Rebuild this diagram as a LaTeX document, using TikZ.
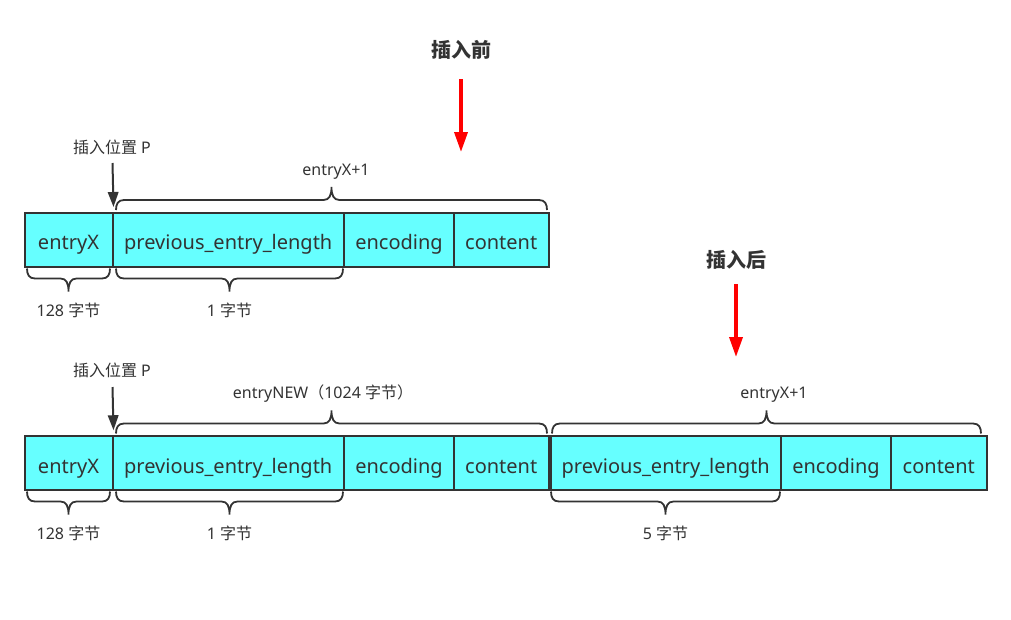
\documentclass[tikz,border=0pt]{standalone}
\usepackage{fontspec}
\setmainfont{Noto Sans}
\newfontfamily\cjk{Noto Sans CJK SC}
\usetikzlibrary{arrows.meta,calc}
\definecolor{ink}{HTML}{333333}
\definecolor{cellfill}{HTML}{66FFFF}
\definecolor{redarrow}{HTML}{FF0000}
\newcommand\curlyb[4]{% x-left, x-right, y of ends, direction (-1 up, 1 down)
  \draw[brc] ({#1},{#3}) .. controls ({#1},{#3+(#4)*6}) and ({#1+2},{#3+(#4)*10}) .. ({#1+8},{#3+(#4)*10})
  -- ({(#1+#2)/2-8},{#3+(#4)*10}) .. controls ({(#1+#2)/2-2},{#3+(#4)*10}) and ({(#1+#2)/2},{#3+(#4)*15}) .. ({(#1+#2)/2},{#3+(#4)*23})
  .. controls ({(#1+#2)/2},{#3+(#4)*15}) and ({(#1+#2)/2+2},{#3+(#4)*10}) .. ({(#1+#2)/2+8},{#3+(#4)*10})
  -- ({#2-8},{#3+(#4)*10}) .. controls ({#2-2},{#3+(#4)*10}) and ({#2},{#3+(#4)*6}) .. ({#2},{#3});}
\begin{document}
\begin{tikzpicture}[x=1pt,y=-1pt,
  cell/.style={draw=ink,fill=cellfill,line width=2pt,inner sep=0pt,
    minimum height=54.5pt,text=ink,text height=20pt,text depth=0pt,
    font=\fontsize{20}{24}\selectfont},
  lbl/.style={text=ink,inner sep=0pt,anchor=base,font=\fontsize{16}{19}\selectfont},
  ttl/.style={text=ink,inner sep=0pt,anchor=base,font=\cjk\bfseries\fontsize{20}{24}\selectfont},
  brc/.style={draw=ink,line width=1.8pt},
  darrow/.style={draw=ink,line width=2pt,-{Triangle[length=15pt,width=10.5pt]}},
  rarrow/.style={draw=redarrow,line width=3.5pt,-{Triangle[length=20pt,width=13pt]}}]
\useasboundingbox (0,0) rectangle (1011,619);

% titles and red arrows
\node[ttl] (before) at (461,57.5) {插入前};
\coordinate (rb1) at (461,79);
\coordinate (rb2) at (461,152);
\draw[rarrow] (rb1) -- (rb2);
\node[ttl] (after) at (736,267) {插入后};
\coordinate (ra1) at (736,284);
\coordinate (ra2) at (736,357);
\draw[rarrow] (ra1) -- (ra2);

% row 1
\node[cell,minimum width=88pt] (a1) at (68.5,239.75) {entryX};
\node[cell,minimum width=231.5pt] (a2) at (228.25,239.75) {previous\_entry\_length};
\node[cell,minimum width=110pt] (a3) at (399,239.75) {encoding};
\node[cell,minimum width=94.5pt] (a4) at (501.25,239.75) {content};

\node[lbl] (p1) at (112,153) {{\cjk 插入位置} P};
\coordinate (p1s) at (112.5,163);
\draw[darrow] (p1s) -- ($(a1.north east)+(0,-4.5)$);

\curlyb{116}{547}{210}{-1}
\node[lbl] (e1) at (336,175.5) {entryX+1};
\curlyb{27}{110}{268.5}{1}
\node[lbl] (s11) at (68.5,316.5) {128 {\cjk 字节}};
\curlyb{116}{343}{268.5}{1}
\node[lbl] (s12) at (229.5,316.5) {1 {\cjk 字节}};

% row 2
\node[cell,minimum width=88pt] (b1) at (68.5,463) {entryX};
\node[cell,minimum width=231.5pt] (b2) at (228.25,463) {previous\_entry\_length};
\node[cell,minimum width=110pt] (b3) at (399,463) {encoding};
\node[cell,minimum width=94.5pt] (b4) at (501.25,463) {content};
\node[cell,minimum width=230.5pt] (b5) at (665.75,463) {previous\_entry\_length};
\node[cell,minimum width=110pt] (b6) at (836,463) {encoding};
\node[cell,minimum width=95.5pt] (b7) at (938.75,463) {content};

\node[lbl] (p2) at (112,376) {{\cjk 插入位置} P};
\coordinate (p2s) at (112.5,387);
\draw[darrow] (p2s) -- ($(b1.north east)+(0,-4.5)$);

\curlyb{116}{547}{433.5}{-1}
\node[lbl] (n2) at (323,398) {entryNEW{\cjk （}1024 {\cjk 字节）}};
\curlyb{552}{981}{433.5}{-1}
\node[lbl] (e2) at (774,398) {entryX+1};
\curlyb{27}{110}{491.5}{1}
\node[lbl] (s21) at (68.5,539.5) {128 {\cjk 字节}};
\curlyb{116}{343}{491.5}{1}
\node[lbl] (s22) at (229.5,539.5) {1 {\cjk 字节}};
\curlyb{551}{780}{491.5}{1}
\node[lbl] (s25) at (665.5,539.5) {5 {\cjk 字节}};
\end{tikzpicture}
\end{document}
